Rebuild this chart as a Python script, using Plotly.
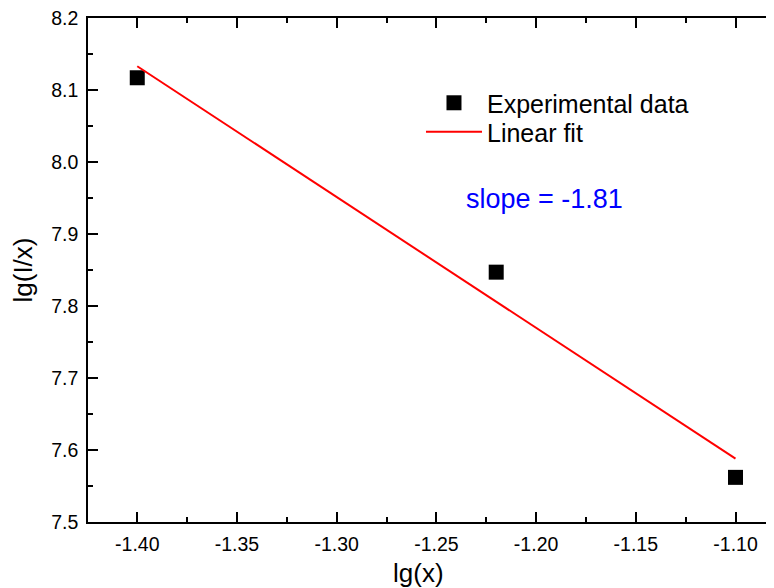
import plotly.graph_objects as go

# Data
lg_x = [-1.40, -1.22, -1.10]
lg_Ix = [8.117, 7.847, 7.562]

fit_x = [-1.40, -1.10]
fit_y = [8.133, 7.588]

slope_label = "slope = -1.81"

x_ticks = [-1.40, -1.35, -1.30, -1.25, -1.20, -1.15, -1.10]
x_ticktext = ["-1.40", "-1.35", "-1.30", "-1.25", "-1.20", "-1.15", "-1.10"]
y_ticks = [7.5, 7.6, 7.7, 7.8, 7.9, 8.0, 8.1, 8.2]
y_ticktext = ["7.5", "7.6", "7.7", "7.8", "7.9", "8.0", "8.1", "8.2"]

FONT = "Arial, 'Liberation Sans', sans-serif"

fig = go.Figure()
fig.add_trace(go.Scatter(
    x=lg_x, y=lg_Ix, mode="markers", name="Experimental data",
    marker=dict(symbol="square", size=15, color="black", line=dict(width=0)),
    legend="legend",
))
fig.add_trace(go.Scatter(
    x=fit_x, y=fit_y, mode="lines", name="Linear fit",
    line=dict(color="#ff0000", width=2),
    legend="legend2",
))

fig.add_annotation(
    xref="paper", yref="paper", x=0.6655, y=0.641,
    text=slope_label, showarrow=False,
    font=dict(family=FONT, size=27, color="#0000ff"),
    xanchor="center", yanchor="middle",
)
# x-axis title
fig.add_annotation(
    xref="paper", yref="paper", x=0.4825, y=-0.101,
    text="lg(x)", showarrow=False,
    font=dict(family=FONT, size=26, color="black"),
    xanchor="center", yanchor="middle",
)

axis_common = dict(
    showgrid=False, zeroline=False, showline=True, linecolor="black", linewidth=1.5,
    ticks="inside", ticklen=10, tickwidth=1.5, tickcolor="black",
    tickfont=dict(family=FONT, size=19.5, color="black"),
    ticklabeloverflow="allow",
)

fig.update_xaxes(
    range=[-1.4247, -1.0807], tickvals=x_ticks, ticktext=x_ticktext,
    mirror="ticks", ticklabelstandoff=4,
    minor=dict(ticks="inside", ticklen=5, tickwidth=1.5, tickcolor="black", dtick=0.025, tick0=-1.4),
    **axis_common,
)
fig.update_yaxes(
    range=[7.5, 8.2], tickvals=y_ticks, ticktext=y_ticktext,
    mirror=False, ticklabelstandoff=4,
    minor=dict(ticks="inside", ticklen=5, tickwidth=1.5, tickcolor="black", dtick=0.05, tick0=7.5),
    title=dict(text="lg(I/x)", font=dict(family=FONT, size=26, color="black"), standoff=15),
    **axis_common,
)

legend_common = dict(
    xanchor="left", yanchor="middle",
    bgcolor="rgba(0,0,0,0)", borderwidth=0,
    font=dict(family=FONT, size=25, color="black"),
    itemwidth=56,
)

fig.update_layout(
    width=766, height=580,
    margin=dict(l=80, r=0, t=10, b=66, autoexpand=False),
    paper_bgcolor="white", plot_bgcolor="white",
    font=dict(family=FONT, color="black"),
    showlegend=True,
    legend=dict(x=0.4854, y=0.8313, **legend_common),
    legend2=dict(x=0.4854, y=0.7738, **legend_common),
)

fig.write_html("out.html")
